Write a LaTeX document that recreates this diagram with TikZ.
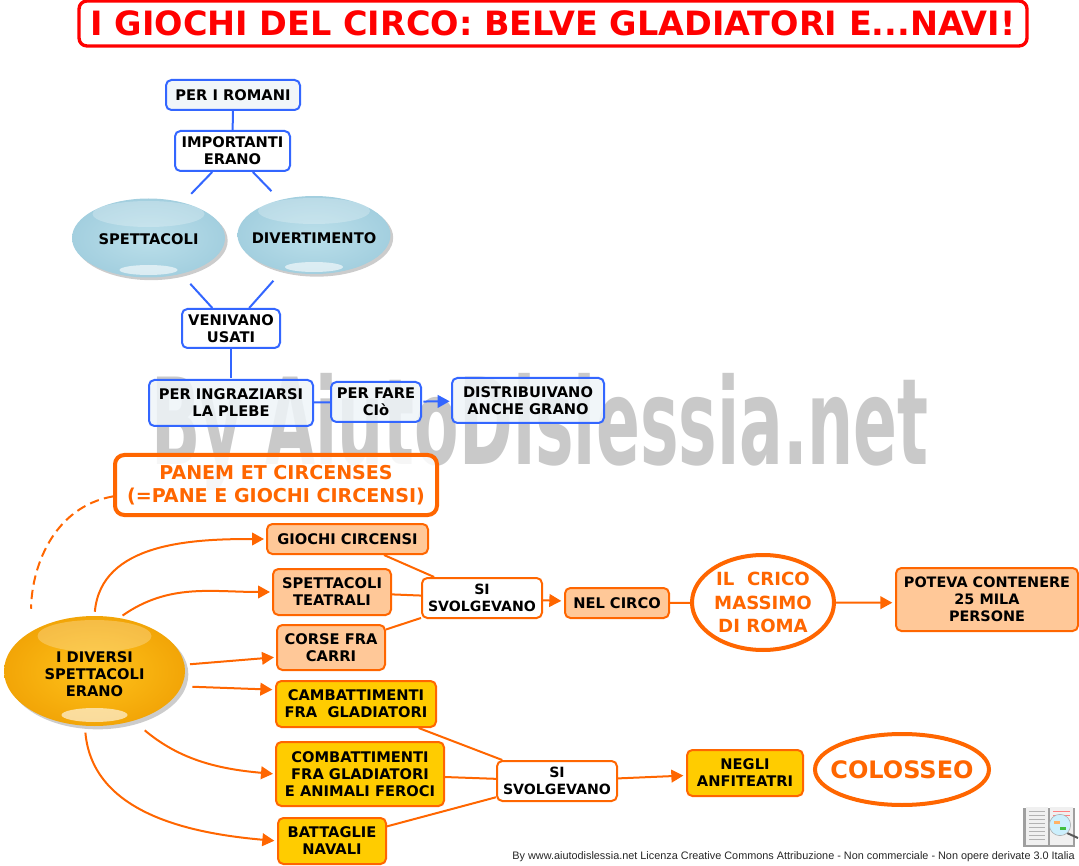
\documentclass[tikz,border=0pt]{standalone}
\usepackage{fontspec}
\setmainfont{DejaVu Sans}
\newfontfamily\footfont{Liberation Sans}
\usetikzlibrary{shapes.geometric}
\usetikzlibrary{arrows.meta}
\usetikzlibrary{shadows}
\definecolor{linkblue}{HTML}{3366FF}
\definecolor{paleblue}{HTML}{EEF4F8}
\definecolor{circoorange}{HTML}{FF6600}
\definecolor{peach}{HTML}{FFC898}
\definecolor{goldbox}{HTML}{FFCC00}
\definecolor{ballblueA}{HTML}{BBDFEA}
\definecolor{ballblueB}{HTML}{A3CFDF}
\definecolor{ballgoldA}{HTML}{FFC21A}
\definecolor{ballgoldB}{HTML}{F2A507}
\newcommand{\glossbits}[6]{% two shiny patches, top and bottom
\fill[white,opacity=.25] ([yshift=-#1*.75pt]path picture bounding box.center) ellipse ({#2*.75pt} and {#3*.75pt});
\fill[white,opacity=.6] ([yshift=-#4*.75pt]path picture bounding box.center) ellipse ({#5*.75pt} and {#6*.75pt});}
\newcommand{\balltext}[2]{\raisebox{#1}[0pt][0pt]{\makebox[0pt]{\parbox{130pt}{\centering #2}}}}
\tikzset{x=.75pt, y=-.75pt,
sz/.style 2 args={minimum width=#1*.75pt, minimum height=#2*.75pt},
every node/.style={align=center, inner sep=0pt, font=\fontsize{11}{12.75}\selectfont\bfseries},
box/.style={draw, rounded corners=4pt, line width=1.5pt},
bluebox/.style={box, draw=linkblue, fill=white},
palebox/.style={bluebox, fill=paleblue, fill opacity=.85, text opacity=1},
peachbox/.style={box, draw=circoorange, fill=peach},
goldenbox/.style={box, draw=circoorange, fill=goldbox},
whitebox/.style={box, draw=circoorange, fill=white},
svolgebox/.style={whitebox, sz={120}{40}, font=\fontsize{10.6}{12.75}\selectfont\bfseries},
ringnode/.style={ellipse, draw=circoorange, line width=3pt, fill=white, text=circoorange},
blueball/.style={ellipse, inner color=ballblueA, outer color=ballblueB,
drop shadow={shadow xshift=2pt, shadow yshift=-2pt, opacity=.4},
path picture={\glossbits{-24}{56}{13}{32}{29}{5}}},
goldball/.style={ellipse, inner color=ballgoldA, outer color=ballgoldB,
drop shadow={shadow xshift=2.5pt, shadow yshift=-2.5pt, opacity=.4},
path picture={\glossbits{-35}{57}{16}{44}{33}{7}}},
bluelink/.style={draw=linkblue, line width=1.5pt},
bluearrow/.style={bluelink, -{Triangle[length=9pt,width=9.5pt]}},
orangelink/.style={draw=circoorange, line width=1.5pt},
orangearrow/.style={orangelink, -{Triangle[length=9pt,width=9.5pt]}}}
\begin{document}
\begin{tikzpicture}
\useasboundingbox (0,0) rectangle (1079,866);
% watermark goes under everything
\node[text=black!21, font=\fontsize{90}{90}\selectfont\bfseries, xscale=.54, transform shape] (wmark) at (540,432) {By AiutoDislessia.net};
\node[box, draw=red, line width=2.5pt, rounded corners=6pt, text=red, sz={948}{45},
font=\fontsize{25.1}{27}\selectfont\bfseries] (titolo) at (553,23.5) {I GIOCHI DEL CIRCO: BELVE GLADIATORI E...NAVI!};
% top part
\node[palebox, sz={134}{30}] (romani) at (233,95) {PER I ROMANI};
\node[bluebox, sz={115}{40}] (importanti) at (232.5,151) {IMPORTANTI\\ERANO};
\node[blueball, sz={153}{79}] (spettacoli) at (148.5,238) {\balltext{-3.75pt}{SPETTACOLI}};
\node[blueball, sz={153}{78}] (divertimento) at (314,235) {\balltext{-5.25pt}{DIVERTIMENTO}};
\node[bluebox, sz={98}{39}] (venivano) at (231,328.5) {VENIVANO\\USATI};
\node[palebox, sz={164}{46}] (plebe) at (231,403) {PER INGRAZIARSI\\LA PLEBE};
\node[palebox, sz={90}{40}] (fare) at (376,402) {PER FARE\\CIò};
\node[palebox, sz={152}{45}] (grano) at (528,400.5) {DISTRIBUIVANO\\ANCHE GRANO};
\node[whitebox, line width=3pt, rounded corners=7pt, fill opacity=.85, text opacity=1, text=circoorange, sz={322}{60},
font=\fontsize{14.3}{17}\selectfont\bfseries] (panem) at (276,485) {PANEM ET CIRCENSES\\(=PANE E GIOCHI CIRCENSI)};
% bottom part
\node[goldball, sz={181}{110}] (diversi) at (94.5,671) {\balltext{-5pt}{I DIVERSI\\SPETTACOLI\\ERANO}};
\node[peachbox, sz={161}{30}] (giochi) at (347.5,539) {GIOCHI CIRCENSI};
\node[peachbox, sz={118}{46}] (teatrali) at (332,592) {SPETTACOLI\\TEATRALI};
\node[peachbox, sz={108}{45}] (corse) at (331,647.5) {CORSE FRA\\CARRI};
\node[goldenbox, sz={160}{46}] (cambatt) at (356,704) {CAMBATTIMENTI\\FRA\ \ GLADIATORI};
\node[goldenbox, sz={168}{64}] (combatt) at (360,774) {COMBATTIMENTI\\FRA GLADIATORI\\E ANIMALI FEROCI};
\node[goldenbox, sz={108}{46}] (navali) at (332,841) {BATTAGLIE\\NAVALI};
\node[svolgebox] (svolgeA) at (482,598) {SI\\SVOLGEVANO};
\node[svolgebox] (svolgeB) at (557,781) {SI\\SVOLGEVANO};
\node[peachbox, sz={104}{30}] (circo) at (617,603) {NEL CIRCO};
\node[ringnode, sz={142}{95}, font=\fontsize{13.6}{17.6}\selectfont\bfseries] (massimo) at (763,602.5) {IL\ \ CRICO\\MASSIMO\\DI ROMA};
\node[peachbox, sz={182}{63}, font=\fontsize{10.8}{12.75}\selectfont\bfseries] (poteva) at (987,599.5) {POTEVA CONTENERE\\25 MILA\\PERSONE};
\node[goldenbox, sz={116}{46}] (negli) at (745,773) {NEGLI\\ANFITEATRI};
\node[ringnode, sz={174}{71}, font=\fontsize{18}{22}\selectfont\bfseries] (colosseo) at (902,769.5) {\makebox[0pt]{COLOSSEO}};
% blue connectors
\draw[bluelink] (romani) -- (importanti);
\draw[bluelink, shorten >=9pt] (importanti) -- (spettacoli);
\draw[bluelink, shorten >=9pt] (importanti) -- (divertimento);
\draw[bluelink, shorten <=10pt] (spettacoli) -- (venivano);
\draw[bluelink, shorten <=10pt] (divertimento) -- (venivano);
\draw[bluelink, shorten >=1pt] (venivano) -- (plebe);
\draw[bluelink] (plebe) -- (fare);
\draw[bluearrow, shorten >=1pt, shorten <=1pt] (fare) -- (grano);
% orange connectors
\draw[orangelink, dashed, dash pattern=on 7pt off 4pt, shorten >=17pt] (panem.184) to[out=190, in=90] (diversi.148);
\draw[orangearrow, shorten <=3pt, shorten >=1.5pt] (diversi.north) to[out=85, in=180] (giochi.west);
\draw[orangearrow, shorten <=3pt, shorten >=1.5pt] (diversi.65) to[out=35, in=180] (teatrali.west);
\draw[orangearrow, shorten <=4pt, shorten >=1.5pt] (diversi.4) -- (corse.190);
\draw[orangearrow, shorten <=8pt, shorten >=2pt] (diversi.-10) -- (cambatt.170);
\draw[orangearrow, shorten <=11pt, shorten >=1.5pt] (diversi.-52) to[out=-40, in=175] (combatt.west);
\draw[orangearrow, shorten <=5pt, shorten >=2pt] (diversi.-100) to[out=-85, in=175] (navali.west);
\draw[orangelink] (giochi) -- (svolgeA);
\draw[orangelink] (teatrali) -- (svolgeA);
\draw[orangelink] (corse) -- (svolgeA);
\draw[orangearrow, shorten >=2pt] (svolgeA) -- (circo);
\draw[orangelink] (circo) -- (massimo);
\draw[orangearrow, shorten >=2pt] (massimo) -- (poteva.182);
\draw[orangelink] (cambatt) -- (svolgeB);
\draw[orangelink] (combatt) -- (svolgeB);
\draw[orangelink] (navali) -- (svolgeB);
\draw[orangearrow, shorten >=2pt] (svolgeB) -- (negli);
% little book in the corner
\fill[gray!75] (1023,808) rectangle (1075,847);
\fill[gray!12] (1026,807) rectangle (1048,845);
\fill[gray!12] (1050,807) rectangle (1073,845);
\foreach \yy in {811,815,819,823,827,831,835,839} {
\draw[gray!60, line width=.6pt] (1029,\yy) -- (1045,\yy);
}
\foreach \yy in {811,815} {
\draw[red!50, line width=.6pt] (1053,\yy) -- (1070,\yy);
}
\draw[gray!70!black, line width=1.5pt] (1067,833) -- (1078,838);
\fill[cyan!20, draw=gray!70] (1060,825) circle[radius=8pt];
\fill[orange!60] (1054,821) rectangle (1060,824);
\fill[green!50!gray] (1060,827) rectangle (1066,830);
% credit line
\node[anchor=east, font=\fontsize{8.15}{10}\footfont, text=black!85] (credit) at (1075,856.5) {By www.aiutodislessia.net Licenza Creative Commons Attribuzione - Non commerciale - Non opere derivate 3.0 Italia};
\end{tikzpicture}
\end{document}
